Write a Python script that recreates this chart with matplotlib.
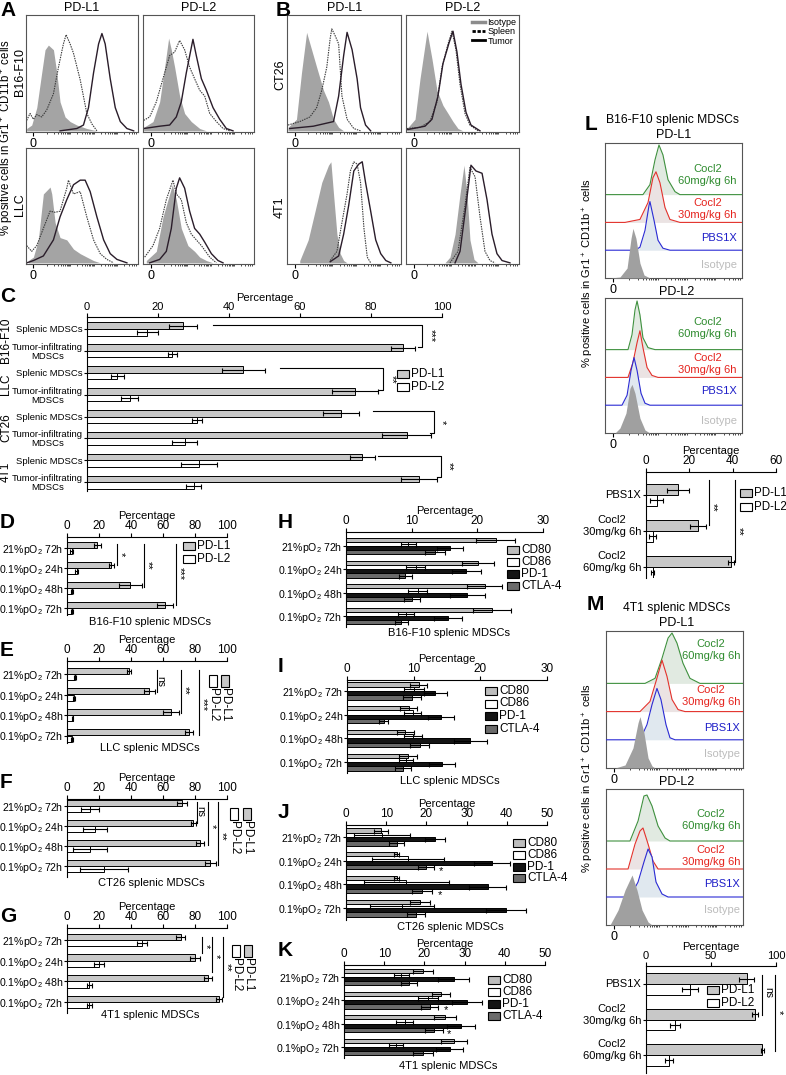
import numpy as np
import matplotlib.pyplot as plt
from matplotlib.patches import Rectangle
from matplotlib.lines import Line2D

plt.rcParams['font.family'] = ['Liberation Sans', 'DejaVu Sans']
plt.rcParams['mathtext.fontset'] = 'custom'
plt.rcParams['mathtext.rm'] = 'Liberation Sans'
plt.rcParams['mathtext.default'] = 'regular'
plt.rcParams['axes.linewidth'] = 0.8

# ---- A/B flow histograms: (channel, % of box height)
B16_L1_ISO = ([0.6, 5.1, 9.6, 14, 17, 20, 24.5, 27.5, 30.4, 34.9, 39.4, 45.4, 54.3, 63.3],
              [2, 5, 20, 50, 70, 74, 70, 50, 25, 12, 8, 5, 2, 0])
B16_L1_SPL = ([0.6, 3.6, 6.6, 9.6, 14, 18.5, 24.5, 29, 33.4, 35.8, 39.4, 42.4, 48.4, 54.3, 58.8, 63.3],
              [9, 15, 10, 14, 12, 18, 32, 55, 75, 83, 75, 67, 44, 15, 6, 0])
B16_L1_TUM = ([30.4, 45.4, 51.3, 55.8, 60.3, 64.8, 67.8, 70.7, 75.2, 79.7, 84.2, 90.1, 96.1],
              [0, 2, 5, 20, 50, 75, 84, 75, 45, 20, 8, 2, 0])
B16_L2_ISO = ([0.6, 9, 15, 19.5, 23.1, 25.5, 28.5, 33, 37.5, 43.5, 51.1, 57.1],
              [3, 8, 25, 55, 80, 70, 55, 30, 15, 8, 2, 0])
B16_L2_SPL = ([0.6, 6, 12, 18, 24, 28.5, 33, 37.5, 42, 46.5, 51.1, 55.6, 60.1, 66.1, 72.1, 78.1],
              [9, 12, 25, 45, 65, 68, 78, 70, 55, 45, 35, 30, 15, 8, 2, 0])
B16_L2_TUM = ([0.6, 15, 24, 30, 34.5, 39, 45, 48, 52.6, 57.1, 63.1, 69.1, 75.1, 81.1],
              [2, 4, 5, 12, 25, 50, 79, 65, 45, 35, 20, 10, 2, 0])

LLC_L1_ISO = ([2.1, 6.6, 11, 15.5, 21.5, 23, 26, 30.4, 36.4, 42.4, 48.4, 54.3, 60.3, 66.3],
              [2, 5, 20, 60, 66, 60, 35, 22, 20, 12, 8, 5, 2, 0])
LLC_L1_SPL = ([0.6, 5.1, 9.6, 15.5, 21.5, 26, 30.4, 36.4, 37.9, 42.4, 48.4, 54.3, 60.3, 66.3, 72.2, 78.2],
              [15, 10, 15, 30, 45, 44, 45, 65, 72, 60, 62, 40, 20, 8, 3, 0])
LLC_L1_TUM = ([0.6, 6.6, 15.5, 24.5, 30.4, 36.4, 42.4, 48.4, 52.8, 57.3, 63.3, 69.3, 75.2, 81.2, 90.1],
              [0, 2, 6, 20, 40, 55, 68, 72, 72, 62, 40, 20, 8, 3, 0])
LLC_L2_ISO = ([3, 12, 18, 22.5, 26.4, 30, 34.5, 40.5, 46.5, 51.1, 57.1, 63.1],
              [2, 10, 40, 55, 68, 55, 30, 15, 10, 5, 2, 0])
LLC_L2_SPL = ([1.5, 9, 15, 21, 27, 30, 34.5, 39, 43.5, 48, 52.6, 60.1, 66.1],
              [5, 15, 30, 55, 72, 60, 55, 35, 25, 20, 15, 5, 0])
LLC_L2_TUM = ([6, 15, 21, 25.5, 30, 33, 37.5, 42, 46.5, 51.1, 55.6, 61.6, 67.6, 72.1],
              [0, 3, 10, 30, 65, 74, 65, 45, 30, 25, 18, 8, 2, 0])

CT26_L1_ISO = ([0.9, 8.3, 12.7, 17.2, 21.6, 26, 32, 36.4, 40.8, 45.3, 49.7],
               [3, 10, 50, 85, 70, 55, 35, 25, 10, 3, 0])
CT26_L1_SPL = ([0.9, 11.2, 20.1, 26, 30.5, 34.9, 37.9, 39.3, 42.3, 45.3, 48.2, 52.7, 58.6, 64.5],
               [5, 8, 12, 20, 35, 55, 80, 88, 82, 75, 30, 10, 2, 0])
CT26_L1_TUM = ([2.4, 23.1, 40.8, 45.3, 49.7, 52.7, 57.1, 61.5, 64.5, 68.9, 73.4],
               [2, 4, 8, 30, 65, 85, 70, 45, 20, 5, 0])
CT26_L2_ISO = ([0.9, 8, 12.4, 18.6, 23, 27.4, 32.7, 37.2, 41.6, 46, 50.4],
               [2, 10, 45, 86, 62, 35, 22, 15, 8, 2, 0])
CT26_L2_SPL = ([0.9, 12.4, 21.2, 27.4, 31.9, 37.2, 40.7, 44.2, 47.8, 52.2, 56.6, 63.7],
               [2, 3, 8, 25, 55, 75, 86, 70, 40, 15, 5, 0])
CT26_L2_TUM = ([0.9, 16.8, 23, 28.3, 32.7, 38.1, 41.6, 45.1, 48.7, 53.1, 57.5, 65.5],
               [1, 4, 10, 30, 58, 76, 86, 68, 40, 16, 5, 0])

FOURT1_L1_ISO = ([11.2, 18.6, 24.6, 30.5, 36.4, 38.5, 40.8, 43.8, 46.7, 49.7, 52.7],
                 [2, 20, 45, 70, 85, 88, 60, 25, 8, 2, 0])
FOURT1_L1_SPL = ([37.9, 43.8, 48.2, 52.7, 55.6, 58.6, 61.5, 64.5, 67.5, 70.4, 73.4],
                 [2, 10, 35, 60, 80, 88, 86, 70, 30, 5, 0])
FOURT1_L1_TUM = ([37.9, 45.3, 49.7, 54.1, 58.6, 63, 66, 68.9, 73.4, 77.8, 82.2, 86.7, 91.1],
                 [1, 6, 25, 50, 80, 86, 88, 70, 45, 20, 8, 2, 0])
FOURT1_L2_ISO = ([34.5, 38.9, 43.4, 47.8, 51.3, 54, 56.6, 60.2, 63.7],
                 [0, 5, 25, 60, 85, 60, 20, 3, 0])
FOURT1_L2_SPL = ([38.9, 46, 52.2, 56.6, 61.1, 65.5, 69.9, 74.3, 78.8],
                 [0, 10, 50, 83, 75, 40, 10, 2, 0])
FOURT1_L2_TUM = ([43.4, 47.8, 53.1, 57.5, 61.9, 67.3, 71.7, 76.1, 80.5, 85, 92],
                 [0, 10, 50, 85, 80, 78, 55, 25, 8, 2, 0])

# ---- L/M offset histograms: (channel, counts)  order: 60mg, 30mg, PBS, isotype
B16M_L1_60 = ([27.7, 32.8, 36.5, 39.4, 42.3, 46, 51.1, 54.7], [0, 10, 35, 50, 40, 15, 3, 0])
B16M_L1_30 = ([14.6, 25.5, 31.4, 35, 37.2, 40.1, 43.8, 47.4, 54.7], [0, 3, 20, 45, 51, 40, 15, 3, 0])
B16M_L1_PBS = ([21.9, 25.5, 29.2, 32.1, 32.8, 35.8, 38.7, 42.3, 47.4], [0, 3, 20, 45, 49, 30, 10, 2, 0])
B16M_L1_ISO = ([3.6, 10.9, 16.1, 19, 20.4, 22.6, 25.5, 28.5, 32.8], [0, 1, 10, 40, 50, 40, 15, 3, 0])
B16M_L2_60 = ([16.8, 19.7, 21.9, 23.4, 25.5, 27.7, 31.4, 36.5], [0, 15, 40, 49, 35, 12, 2, 0])
B16M_L2_30 = ([16.8, 20.4, 23.4, 25.5, 27.7, 30.7, 34.3, 38.7], [0, 15, 35, 47, 30, 10, 2, 0])
B16M_L2_PBS = ([12.4, 16.1, 19, 21.2, 23.4, 26.3, 29.2, 32.8], [0, 10, 35, 48, 35, 12, 2, 0])
B16M_L2_ISO = ([7.3, 10.9, 15.3, 18.2, 19.7, 21.9, 25.5, 29.2, 32.8], [0, 5, 20, 45, 49, 40, 15, 3, 0])

T1M_L1_60 = ([28.5, 35.8, 40.9, 45.3, 48.2, 51.8, 56.2, 61.3, 68.6], [0, 5, 25, 45, 50, 40, 20, 5, 0])
T1M_L1_30 = ([24.8, 32.1, 36.5, 40.9, 44.5, 48.2, 52.6, 57.7], [0, 10, 30, 51, 35, 12, 2, 0])
T1M_L1_PBS = ([24.8, 29.9, 33.6, 37.2, 40.1, 43.8, 46.7, 50.4], [0, 15, 35, 51, 40, 15, 2, 0])
T1M_L1_ISO = ([6.6, 13.9, 19.7, 23.4, 24.8, 27.7, 30.7, 33.6, 35.8], [0, 3, 20, 45, 51, 35, 10, 2, 0])
T1M_L2_60 = ([17.5, 23.4, 27.7, 29.9, 33.6, 38, 43.1, 46.7], [0, 20, 45, 46, 35, 15, 3, 0])
T1M_L2_30 = ([16.1, 21.2, 24.8, 27, 30.7, 34.3, 38], [0, 25, 38, 41, 25, 8, 0])
T1M_L2_PBS = ([17.5, 23.4, 27.7, 30.7, 33.6, 36.5, 40.9, 45.3], [0, 15, 35, 48, 40, 15, 3, 0])
T1M_L2_ISO = ([2.9, 8.8, 13.9, 19, 22.6, 26.3, 30.7, 33.6], [0, 15, 35, 50, 35, 15, 3, 0])

LANE_LABELS = ['Cocl2\n60mg/kg 6h', 'Cocl2\n30mg/kg 6h', 'PBS1X', 'Isotype']

# ---- C
C_GROUPS = ['Splenic MDSCs', 'Tumor-infiltrating\nMDSCs'] * 4
C_TUMORS = ['B16-F10', 'LLC', 'CT26', '4T1']
C_PDL1 = [27, 89, 44, 75.5, 71.5, 90, 77.5, 93.5]
C_PDL1_ERR = [4, 3.5, 6, 6.5, 5, 7, 3.5, 5]
C_PDL2 = [17, 24, 8.5, 12, 31, 27.5, 31.5, 30]
C_PDL2_ERR = [3, 1.3, 1.8, 2.5, 1.5, 3.5, 5, 2]

# ---- D-G
HYPOXIA = ['21%pO$_2$ 72h', '0.1%pO$_2$ 24h', '0.1%pO$_2$ 48h', '0.1%pO$_2$ 72h']
D_PDL1 = [19, 27.7, 39.6, 61.5]
D_PDL1_ERR = [2, 1.5, 7, 5]
D_PDL2 = [3, 6, 3, 3]
D_PDL2_ERR = [1, 1, 0.5, 0.5]
E_PDL1 = [39, 51.5, 65, 76.5]
E_PDL1_ERR = [1.2, 3.5, 5, 2.5]
E_PDL2 = [5, 4.5, 3.5, 3]
E_PDL2_ERR = [0.5, 0.5, 0.5, 0.5]
F_PDL1 = [72, 79, 83, 89.5]
F_PDL1_ERR = [3, 1.5, 2.5, 3.5]
F_PDL2 = [14.5, 17.5, 14.5, 23]
F_PDL2_ERR = [5.5, 7.5, 10.5, 15]
G_PDL1 = [71, 80, 88, 95]
G_PDL1_ERR = [3, 3, 2.5, 2]
G_PDL2 = [47, 20, 14, 14]
G_PDL2_ERR = [3, 3, 1.5, 1.5]

# ---- H-K
CKPT = ['CD80', 'CD86', 'PD-1', 'CTLA-4']
H_CD80 = [22.8, 20.1, 21.1, 22.3]
H_CD80_ERR = [3, 2.5, 2.7, 2.9]
H_CD86 = [9.5, 10.6, 10.9, 9.1]
H_CD86_ERR = [1.2, 1.4, 1.4, 1.2]
H_PD1 = [15.8, 18.3, 18.5, 15.5]
H_PD1_ERR = [2, 2.2, 2.6, 2.1]
H_CTLA4 = [13.5, 9, 10, 8.4]
H_CTLA4_ERR = [1.5, 1, 1.2, 1]

I_CD80 = [10.75, 9.25, 8.75, 9.15]
I_CD80_ERR = [1.3, 1.3, 1.3, 1.3]
I_CD86 = [10, 9.85, 9.9, 8.85]
I_CD86_ERR = [1.5, 1.3, 1.3, 1.1]
I_PD1 = [13.25, 14.1, 18.5, 14.25]
I_PD1_ERR = [1.7, 1.9, 2.5, 1.9]
I_CTLA4 = [9.75, 5.5, 10.9, 8.4]
I_CTLA4_ERR = [1.3, 0.7, 1.4, 1.2]

J_CD80 = [8.7, 12.6, 12.6, 18.3]
J_CD80_ERR = [1.8, 0.7, 0.7, 2.5]
J_CD86 = [9, 15.5, 15, 14]
J_CD86_ERR = [7, 9, 10.5, 8]
J_PD1 = [22.2, 36.3, 35.2, 39.9]
J_PD1_ERR = [2.5, 4.5, 4.5, 5]
J_CTLA4 = [12.6, 19.9, 19, 17.4]
J_CTLA4_ERR = [1.8, 2, 2.5, 2.2]

K_CD80 = [19.7, 24.1, 25.2, 27.4]
K_CD80_ERR = [2.5, 2.2, 2.7, 3.2]
K_CD86 = [14.3, 20.9, 15.1, 13]
K_CD86_ERR = [1.8, 2.5, 2.1, 1.7]
K_PD1 = [27.3, 30.6, 29.1, 26.3]
K_PD1_ERR = [3.8, 3.8, 3.6, 3.3]
K_CTLA4 = [16.2, 21.3, 22.4, 19.7]
K_CTLA4_ERR = [2, 2.2, 2.3, 2.5]

# ---- L/M bars
COCL2 = ['PBS1X', 'Cocl2\n30mg/kg 6h', 'Cocl2\n60mg/kg 6h']
L_PDL1 = [14.8, 24, 39.2]
L_PDL1_ERR = [5, 3.5, 1.3]
L_PDL2 = [5, 3, 3]
L_PDL2_ERR = [3, 1.5, 0.5]
M_PDL1 = [77.4, 84, 89.5]
M_PDL1_ERR = [5.5, 2.5, 1]
M_PDL2 = [34, 22, 17.5]
M_PDL2_ERR = [6, 3.8, 3]

W, H = 786, 1075
fig = plt.figure(figsize=(W / 100, H / 100), dpi=100)

PDL_COLORS = ['#c8c8c8', 'white']
CK_COLORS = ['#bdbdbd', 'white', '#141414', '#6b6b6b']
YLAB = '% positive cells in Gr1$^+$ CD11b$^+$ cells'
STAR = 8


def px_axes(l, t, r, b):
    return fig.add_axes([l / W, 1 - b / H, (r - l) / W, (b - t) / H])


def ftext(x, y, s, **kw):
    return fig.text(x / W, 1 - y / H, s, **kw)


def letter(x, y, s):
    ftext(x, y, s, fontsize=15, fontweight='bold', ha='left', va='center')


def flow_ticks(ax, zero_at):
    minors = []
    for k in range(5):
        for m in range(1, 10):
            p = zero_at + 12 + 21 * (k + np.log10(m))
            if p < 99:
                minors.append(p)
    ax.set_xticks([zero_at], ['0'])
    ax.set_xticks(minors, minor=True)
    ax.tick_params(axis='x', which='major', length=3, width=0.8, pad=1, labelsize=9)
    ax.tick_params(axis='x', which='minor', length=1.6, width=0.5)
    ax.set_yticks([])
    for s in ax.spines.values():
        s.set_color('#555555')
        s.set_linewidth(0.8)


def flow_panel(l, t, r, b, iso, spl, tum, zero_at=6.6):
    ax = px_axes(l, t, r, b)
    ax.fill_between(iso[0], iso[1], color='#a4a4a4', lw=0)
    ax.plot(spl[0], spl[1], color='#3a3a3a', lw=0.8, ls=(0, (1.3, 0.9)))
    ax.plot(tum[0], tum[1], color='#2a1d2a', lw=1.0)
    ax.set_xlim(0, 100)
    ax.set_ylim(-1, 100)
    flow_ticks(ax, zero_at)
    return ax


LANE_FILL = ['#e1eae1', '#ebe3e3', '#e0e8ef', '#a0a0a0']
LANE_LINE = ['#3f913f', '#e3322c', '#2b2bd4', None]
LANE_TEXT = ['#2e8b2e', '#e5231d', '#1e1ec8', '#bcbcbc']
LANE_BASE = [84, 56, 28, 0]


def lane_panel(l, t, r, b, curves, text_off, text_x=96):
    ax = px_axes(l, t, r, b)
    ax.set_xlim(0, 100)
    ax.set_ylim(0, 136)
    for i, (cx, cy) in enumerate(curves):
        base = LANE_BASE[i]
        xs = [0] + list(cx) + [100]
        ys = np.array([0] + list(cy) + [0]) + base
        ax.fill_between(xs, base, ys, color=LANE_FILL[i], lw=0, zorder=2 + i)
        if LANE_LINE[i]:
            ax.plot(xs, ys, color=LANE_LINE[i], lw=0.8, zorder=2 + i)
        ax.text(text_x, base + text_off[i], LANE_LABELS[i], color=LANE_TEXT[i], fontsize=8,
                ha='right', va='center', multialignment='center', linespacing=1.25, zorder=10)
    flow_ticks(ax, 5.5)
    return ax


def bar_panel(l, r, t, b, first, step, xmax, xticks, cats, series, colors, bar_h,
              cat_size=7.6, tick_size=8.5, lab_size=8, labelpad=1):
    ax = px_axes(l, t, r, b)
    n = len(cats)
    last = first + (n - 1) * step
    ax.set_xlim(0, xmax)
    ax.set_ylim(n - 1 + (b - last) / step, -(first - t) / step)
    pos = np.arange(n)
    m = len(series)
    for k, (vals, errs) in enumerate(series):
        off = (k - (m - 1) / 2) * bar_h
        ax.barh(pos + off, vals, height=bar_h, color=colors[k], edgecolor='black', linewidth=0.7,
                xerr=errs, error_kw=dict(ecolor='black', elinewidth=0.8, capsize=1.8, capthick=0.8))
    ax.xaxis.tick_top()
    ax.xaxis.set_label_position('top')
    ax.set_xticks(xticks)
    ax.set_xlabel('Percentage', fontsize=lab_size, labelpad=labelpad)
    ax.set_yticks(pos, cats, fontsize=cat_size)
    for s in ('right', 'bottom'):
        ax.spines[s].set_visible(False)
    ax.tick_params(axis='x', length=3, width=0.8, pad=0.5, labelsize=tick_size)
    ax.tick_params(axis='y', length=2, width=0.8, pad=1)
    return ax


def sig(ax, x, y0, y1, label, ly, dx=2.5, size=STAR):
    ax.plot([x, x], [y0, y1], color='black', lw=0.8, clip_on=False)
    ax.text(x + dx, ly, label, rotation=270, ha='center', va='center', fontsize=size)


def px_legend(x, y, labels, colors, dy=12.5, size=8.5, bw=12, bh=8):
    for i, (lab, c) in enumerate(zip(labels, colors)):
        yy = y + i * dy
        fig.add_artist(Rectangle((x / W, 1 - (yy + bh / 2) / H), bw / W, bh / H,
                                 transform=fig.transFigure, facecolor=c, edgecolor='black', lw=0.8))
        ftext(x + bw + 2, yy, lab, fontsize=size, ha='left', va='center')


def px_legend_rot(xs, y, labels, colors, size=8.5, bw=8, bh=12):
    for cx, lab, c in zip(xs, labels, colors):
        fig.add_artist(Rectangle(((cx - bw / 2) / W, 1 - (y + bh) / H), bw / W, bh / H,
                                 transform=fig.transFigure, facecolor=c, edgecolor='black', lw=0.8))
        ftext(cx, y + bh + 1, lab, fontsize=size, rotation=270, ha='center', va='top')


def stacked_labels(ax, labels, size=8):
    ax.set_yticks(range(len(labels)), [''] * len(labels))
    for i, lab in enumerate(labels):
        two = '\n' in lab
        ax.annotate(lab, xy=(0, i), xycoords=('axes fraction', 'data'),
                    xytext=(-3.5, -4.5 if two else 0), textcoords='offset points',
                    ha='right', va='bottom' if two else 'center', fontsize=size,
                    multialignment='center', linespacing=1.25)


# ================= A / B
letter(0, 10, 'A')
letter(276, 10, 'B')
for x, s in [(82, 'PD-L1'), (199, 'PD-L2'), (345, 'PD-L1'), (463, 'PD-L2')]:
    ftext(x, 8, s, fontsize=9, ha='center', va='center')
ftext(7, 138, YLAB, fontsize=8.3, rotation=90, ha='center', va='center')
ftext(20, 72, 'B16-F10', fontsize=9, rotation=90, ha='center', va='center')
ftext(20, 205, 'LLC', fontsize=9, rotation=90, ha='center', va='center')
ftext(280, 75, 'CT26', fontsize=9, rotation=90, ha='center', va='center')
ftext(280, 207, '4T1', fontsize=9, rotation=90, ha='center', va='center')

flow_panel(26, 15, 138, 132, B16_L1_ISO, B16_L1_SPL, B16_L1_TUM)
flow_panel(143, 15, 254, 132, B16_L2_ISO, B16_L2_SPL, B16_L2_TUM, 7)
flow_panel(26, 148, 138, 264, LLC_L1_ISO, LLC_L1_SPL, LLC_L1_TUM)
flow_panel(143, 148, 254, 264, LLC_L2_ISO, LLC_L2_SPL, LLC_L2_TUM, 7)
flow_panel(287, 15, 401, 132, CT26_L1_ISO, CT26_L1_SPL, CT26_L1_TUM, 6.8)
axb = flow_panel(406, 15, 519, 132, CT26_L2_ISO, CT26_L2_SPL, CT26_L2_TUM, 6.8)
flow_panel(287, 148, 401, 264, FOURT1_L1_ISO, FOURT1_L1_SPL, FOURT1_L1_TUM, 6.8)
flow_panel(406, 148, 519, 264, FOURT1_L2_ISO, FOURT1_L2_SPL, FOURT1_L2_TUM, 6.8)
handles = [Line2D([], [], color='#8c8c8c', lw=2.5),
           Line2D([], [], color='black', lw=2, ls=(0, (1.2, 0.6))),
           Line2D([], [], color='black', lw=2)]
axb.legend(handles, ['Isotype', 'Spleen', 'Tumor'], loc='upper right', frameon=False, fontsize=6.5,
           handlelength=1.5, handletextpad=0.2, labelspacing=0.05, borderpad=0.2, borderaxespad=0.1)

# ================= C
letter(0, 297, 'C')
axc = bar_panel(87, 442, 317, 491, 329, 21.9, 100, [0, 20, 40, 60, 80, 100], C_GROUPS,
                [(C_PDL1, C_PDL1_ERR), (C_PDL2, C_PDL2_ERR)], PDL_COLORS, 0.3,
                cat_size=6.8, tick_size=8, lab_size=8)
for lbl in axc.get_yticklabels():
    lbl.set_multialignment('center')
    lbl.set_linespacing(1.0)
for i, name in enumerate(C_TUMORS):
    ftext(6, 340 + 44 * i, name, fontsize=8.5, rotation=90, ha='center', va='center')
for xs, y0, xv, y1, lab in [(35.5, -0.18, 94.4, 0.82, '***'), (54.4, 1.78, 83.4, 2.79, '**'),
                            (80.6, 3.74, 97.7, 4.75, '*'), (82, 5.8, 99.7, 6.76, '**')]:
    axc.plot([xs, xv, xv, xv - 1.2], [y0, y0, y1, y1], color='black', lw=0.8, clip_on=False)
    axc.text(xv + 2.3, (y0 + y1) / 2, lab, rotation=270, ha='center', va='center', fontsize=STAR)
px_legend(397, 374, ['PD-L1', 'PD-L2'], PDL_COLORS, dy=13, size=8.5)

# ================= D-G
letter(0, 523, 'D')
axd = bar_panel(67, 227, 537, 615, 548, 20, 100, [0, 20, 40, 60, 80, 100], HYPOXIA,
                [(D_PDL1, D_PDL1_ERR), (D_PDL2, D_PDL2_ERR)], PDL_COLORS, 0.3)
sig(axd, 31, -0.2, 0.85, '*', 0.3)
sig(axd, 48, -0.2, 1.95, '**', 0.85)
sig(axd, 68, -0.2, 2.85, '***', 1.3)
px_legend(183, 546, ['PD-L1', 'PD-L2'], PDL_COLORS, dy=12.5, size=8.5)
ftext(150, 622, 'B16-F10 splenic MDSCs', fontsize=8, ha='center', va='center')

letter(0, 651, 'E')
axe = bar_panel(67, 227, 661, 743, 674, 20.5, 100, [0, 20, 40, 60, 80, 100], HYPOXIA,
                [(E_PDL1, E_PDL1_ERR), (E_PDL2, E_PDL2_ERR)], PDL_COLORS, 0.3)
sig(axe, 56, -0.2, 0.88, 'ns', 0.35, size=7.5)
sig(axe, 71, -0.2, 1.9, '**', 0.8)
sig(axe, 82.5, -0.2, 2.98, '***', 1.5)
px_legend_rot([225, 213], 675, ['PD-L1', 'PD-L2'], PDL_COLORS)
ftext(150, 748, 'LLC splenic MDSCs', fontsize=8, ha='center', va='center')

letter(0, 782, 'F')
axf = bar_panel(67, 227, 799, 877, 806, 20, 100, [0, 20, 40, 60, 80, 100], HYPOXIA,
                [(F_PDL1, F_PDL1_ERR), (F_PDL2, F_PDL2_ERR)], PDL_COLORS, 0.3)
sig(axf, 81, -0.2, 0.85, 'ns', 0.3, size=7.5)
sig(axf, 88, -0.2, 1.95, '*', 1.0)
sig(axf, 94.4, -0.2, 2.95, '**', 1.5)
px_legend_rot([247, 234], 808, ['PD-L1', 'PD-L2'], PDL_COLORS)
ftext(151, 883, 'CT26 splenic MDSCs', fontsize=8, ha='center', va='center')

letter(0, 916, 'G')
axg = bar_panel(67, 227, 928, 1013, 940, 20.7, 100, [0, 20, 40, 60, 80, 100], HYPOXIA,
                [(G_PDL1, G_PDL1_ERR), (G_PDL2, G_PDL2_ERR)], PDL_COLORS, 0.3)
sig(axg, 84.4, -0.15, 0.63, '*', 0.3)
sig(axg, 90.6, -0.15, 1.55, '*', 0.8)
sig(axg, 97.5, -0.15, 2.75, '**', 1.3)
px_legend_rot([248, 236], 945, ['PD-L1', 'PD-L2'], PDL_COLORS)
ftext(150, 1015, '4T1 splenic MDSCs', fontsize=8, ha='center', va='center')

# ================= H-K
letter(278, 523, 'H')
bar_panel(346, 543, 532, 627, 546, 23.3, 30, [0, 10, 20, 30], HYPOXIA,
          [(H_CD80, H_CD80_ERR), (H_CD86, H_CD86_ERR), (H_PD1, H_PD1_ERR), (H_CTLA4, H_CTLA4_ERR)],
          CK_COLORS, 0.18)
px_legend(507, 550, CKPT, CK_COLORS, dy=12)
ftext(449, 633, 'B16-F10 splenic MDSCs', fontsize=8, ha='center', va='center')

letter(278, 667, 'I')
bar_panel(347, 547, 680, 773, 691, 23.7, 30, [0, 10, 20, 30], HYPOXIA,
          [(I_CD80, I_CD80_ERR), (I_CD86, I_CD86_ERR), (I_PD1, I_PD1_ERR), (I_CTLA4, I_CTLA4_ERR)],
          CK_COLORS, 0.18)
px_legend(485, 691, CKPT, CK_COLORS, dy=12.5)
ftext(450, 781, 'LLC splenic MDSCs', fontsize=8, ha='center', va='center')

letter(278, 812, 'J')
axj = bar_panel(346, 547, 825, 920, 837, 23.7, 50, [0, 10, 20, 30, 40, 50], HYPOXIA,
                [(J_CD80, J_CD80_ERR), (J_CD86, J_CD86_ERR), (J_PD1, J_PD1_ERR), (J_CTLA4, J_CTLA4_ERR)],
                CK_COLORS, 0.18)
axj.text(23.7, 1.45, '*', fontsize=STAR, ha='center', va='center')
axj.text(23.3, 2.45, '*', fontsize=STAR, ha='center', va='center')
px_legend(513, 843, CKPT, CK_COLORS, dy=11.8)
ftext(450, 927, 'CT26 splenic MDSCs', fontsize=8, ha='center', va='center')

letter(278, 951, 'K')
axk = bar_panel(344, 545, 965, 1058, 977, 23.3, 50, [0, 10, 20, 30, 40, 50], HYPOXIA,
                [(K_CD80, K_CD80_ERR), (K_CD86, K_CD86_ERR), (K_PD1, K_PD1_ERR), (K_CTLA4, K_CTLA4_ERR)],
                CK_COLORS, 0.18)
axk.text(25.4, 1.4, '*', fontsize=STAR, ha='center', va='center')
axk.text(26.2, 2.45, '*', fontsize=STAR, ha='center', va='center')
px_legend(488, 980, CKPT, CK_COLORS, dy=12)
ftext(448, 1066, '4T1 splenic MDSCs', fontsize=8, ha='center', va='center')

# ================= L
letter(585, 125, 'L')
ftext(673, 120, 'B16-F10 splenic MDSCs', fontsize=8.7, ha='center', va='center')
ftext(674, 135, 'PD-L1', fontsize=9, ha='center', va='center')
ftext(677, 292, 'PD-L2', fontsize=9, ha='center', va='center')
ftext(588, 273, YLAB, fontsize=8, rotation=90, ha='center', va='center')
lane_panel(605, 143, 742, 278, [B16M_L1_60, B16M_L1_30, B16M_L1_PBS, B16M_L1_ISO], [20, 13.5, 12, 13])
lane_panel(605, 298, 742, 433, [B16M_L2_60, B16M_L2_30, B16M_L2_PBS, B16M_L2_ISO], [22, 13.5, 14, 12])
axl = bar_panel(646, 776, 472, 578, 495, 36, 60, [0, 20, 40, 60], COCL2,
                [(L_PDL1, L_PDL1_ERR), (L_PDL2, L_PDL2_ERR)], PDL_COLORS, 0.3)
stacked_labels(axl, COCL2)
sig(axl, 29, -0.42, 0.83, '**', 0.35, dx=1.6)
sig(axl, 41, -0.42, 1.86, '**', 1.0, dx=1.6)
px_legend(740, 493, ['PD-L1', 'PD-L2'], PDL_COLORS, dy=14, size=8.3)

# ================= M
letter(587, 605, 'M')
ftext(677, 608, '4T1 splenic MDSCs', fontsize=8.7, ha='center', va='center')
ftext(677, 623, 'PD-L1', fontsize=9, ha='center', va='center')
ftext(677, 782, 'PD-L2', fontsize=9, ha='center', va='center')
ftext(588, 778, YLAB, fontsize=8, rotation=90, ha='center', va='center')
lane_panel(606, 631, 743, 768, [T1M_L1_60, T1M_L1_30, T1M_L1_PBS, T1M_L1_ISO], [33, 15, 12, 14], 98)
lane_panel(606, 789, 743, 925, [T1M_L2_60, T1M_L2_30, T1M_L2_PBS, T1M_L2_ISO], [21, 13, 13, 15], 98)
axm = bar_panel(646, 776, 966, 1073, 984, 35.5, 100, [0, 50, 100], COCL2,
                [(M_PDL1, M_PDL1_ERR), (M_PDL2, M_PDL2_ERR)], PDL_COLORS, 0.3, tick_size=8)
stacked_labels(axm, COCL2)
sig(axm, 89.5, -0.25, 0.87, 'ns', 0.25, dx=4.5, size=7.5)
sig(axm, 99.2, -0.25, 1.9, '*', 0.8, dx=3)
px_legend(707, 990, ['PD-L1', 'PD-L2'], PDL_COLORS, dy=13, size=8.5)

fig.savefig('out.png', dpi=100, facecolor='white')
